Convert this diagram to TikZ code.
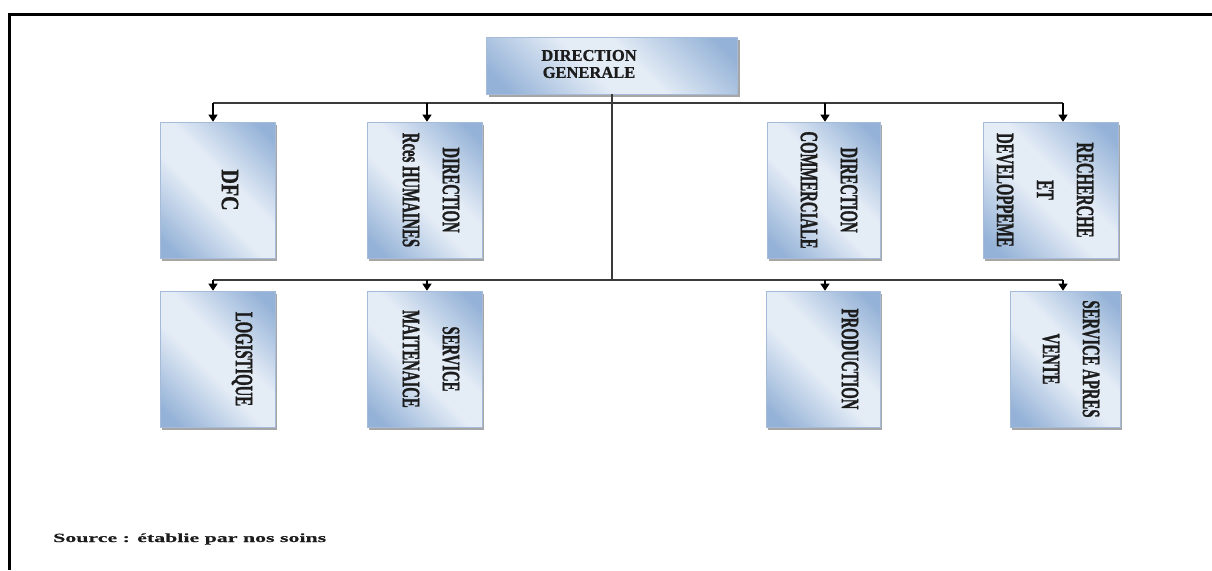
\documentclass[tikz,border=0pt]{standalone}
\usepackage{fontspec}
\setmainfont{Liberation Serif}
\newfontfamily\boxfont[FakeStretch=0.59,FakeBold=1]{Liberation Serif Bold}
\newfontfamily\wideboxfont[FakeStretch=0.8,FakeBold=1]{Liberation Serif Bold}
\newfontfamily\headfont[FakeBold=0.8]{Liberation Serif Bold}
\newfontfamily\srcfont[FakeStretch=1.75,FakeBold=0.5]{Liberation Serif Bold}
\usetikzlibrary{arrows.meta,shadows,calc}

\definecolor{bxlight}{HTML}{E4ECF6}
\definecolor{bxdark}{HTML}{94B2D7}
\definecolor{bxedge}{HTML}{A6BBD7}
\definecolor{ink}{HTML}{1C1C1C}
\definecolor{wire}{HTML}{3A3A3A}

% diagonal light band across a blue fill
\pgfdeclarehorizontalshading{orgshade}{100bp}{color(0bp)=(bxdark); color(20bp)=(bxdark); color(44bp)=(bxlight); color(56bp)=(bxlight); color(80bp)=(bxdark); color(100bp)=(bxdark)}

\tikzset{
  orgbox/.style={draw=bxedge, line width=0.6pt, shading=orgshade, shading angle=45,
    drop shadow={shadow xshift=2pt, shadow yshift=-2.5pt, fill=black!50, opacity=0.7},
    inner sep=0pt},
  rowbox/.style={orgbox, minimum width=115pt, minimum height=136pt},
  boxtext/.style={rotate=-90, align=center, text=ink, inner sep=0pt,
    font=\boxfont\fontsize{25}{40}\selectfont},
  wireline/.style={draw=wire, line width=1.3pt},
  arr/.style={draw=black, line width=1.2pt, -{Triangle[length=7pt,width=9pt]}},
}

\begin{document}
\begin{tikzpicture}[x=1pt,y=-1pt]
\useasboundingbox (0,0) rectangle (1212,570);

% outer frame (top and left edges)
\draw[line width=3.5pt, line join=miter] (9.5,570) -- (9.5,14.5) -- (1212,14.5);

% head of the organisation
\node[orgbox, minimum width=251pt, minimum height=57pt] (dg) at (612,65.5) {};
\node[align=center, text=ink, inner sep=0pt, font=\headfont\fontsize{16.5}{17}\selectfont]
  (dgt) at (589,64) {DIRECTION\\GENERALE};

% first row
\node[rowbox] (dfc) at (217.5,190) {};
\node[rowbox] (rh)  at (424.5,190) {};
\node[rowbox, minimum width=113pt] (dc) at (823.5,190) {};
\node[rowbox, minimum width=135pt] (rd) at (1050.5,190) {};

% second row
\node[rowbox] (log) at (217.5,359) {};
\node[rowbox] (sm)  at (424.5,359) {};
\node[rowbox, minimum width=114pt] (prod) at (823,359) {};
\node[rowbox, minimum width=110pt] (sav)  at (1065,359) {};

% box labels
\node[boxtext, font=\wideboxfont\fontsize{25}{40}\selectfont] (dfct) at ($(dfc)+(12.5,0)$) {DFC};
\node[boxtext] (rht)   at ($(rh)+(6.5,0)$)   {DIRECTION\\Rces HUMAINES};
\node[boxtext] (dct)   at ($(dc)+(5.5,0)$)   {DIRECTION\\COMMERCIALE};
\node[boxtext] (rdt)   at ($(rd)+(-5.5,0)$)  {RECHERCHE\\ET\\DEVELOPPEME};
\node[boxtext] (logt)  at ($(log)+(24.5,0)$) {LOGISTIQUE};
\node[boxtext] (smt)   at ($(sm)+(6.5,0)$)   {SERVICE\\MAITENAICE};
\node[boxtext] (prodt) at ($(prod)+(27,0)$)  {PRODUCTION};
\node[boxtext] (savt)  at ($(sav)+(6,0)$)    {SERVICE APRES\\VENTE};

% distribution buses
\coordinate (a1) at (213,103);
\coordinate (a2) at (427,103);
\coordinate (a3) at (825,103);
\coordinate (a4) at (1063,103);
\coordinate (c1) at (213,280);
\coordinate (c2) at (427,280);
\coordinate (c3) at (825,280);
\coordinate (c4) at (1063,280);
\coordinate (trunk) at (612,280);

\draw[wireline] (a1) -- (a4);
\draw[wireline] (c1) -- (c4);
\draw[wireline] (dg.south) -- (trunk);

\draw[arr] (a1) -- (a1 |- dfc.north);
\draw[arr] (a2) -- (a2 |- rh.north);
\draw[arr] (a3) -- (a3 |- dc.north);
\draw[arr] (a4) -- (a4 |- rd.north);
\draw[arr] (c1) -- (c1 |- log.north);
\draw[arr] (c2) -- (c2 |- sm.north);
\draw[arr] (c3) -- (c3 |- prod.north);
\draw[arr] (c4) -- (c4 |- sav.north);

% source note
\node[anchor=base west, text=ink, inner sep=0pt, font=\srcfont\fontsize{12.5}{15}\selectfont]
  (src) at (53,542) {Source : établie par nos soins};
\end{tikzpicture}
\end{document}
